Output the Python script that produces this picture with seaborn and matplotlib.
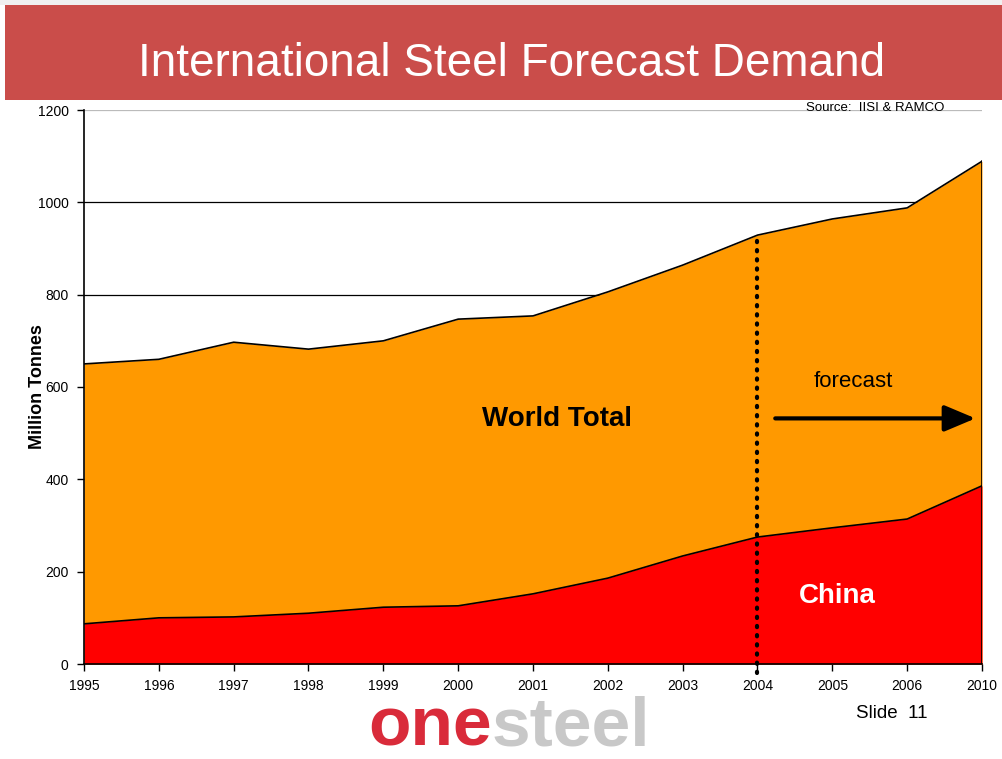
import matplotlib
matplotlib.use("Agg")
import matplotlib.pyplot as plt
import seaborn as sns
import pandas as pd
import numpy as np
from matplotlib.patches import Rectangle, FancyArrowPatch
from matplotlib.transforms import offset_copy

years = ["1995", "1996", "1997", "1998", "1999", "2000", "2001",
         "2002", "2003", "2004", "2005", "2006", "2010"]
world_total = [650, 660, 697, 682, 700, 747, 754, 806, 864, 929, 964, 988, 1089]
china = [87, 100, 102, 110, 123, 126, 152, 186, 234, 275, 295, 314, 386]
y_ticks = [0, 200, 400, 600, 800, 1000, 1200]

sns.set_style("white")
plt.rcParams['font.family'] = ['Liberation Sans', 'DejaVu Sans']
plt.rcParams['text.color'] = 'black'
plt.rcParams['axes.labelcolor'] = 'black'
plt.rcParams['xtick.color'] = 'black'
plt.rcParams['ytick.color'] = 'black'

fig = plt.figure(figsize=(10.03, 7.59), dpi=100)
W, H = 1003, 759
ax = fig.add_axes([84 / W, 1 - 664 / H, (982 - 84) / W, (664 - 110) / H])

df = pd.DataFrame({"x": np.arange(len(years)), "world": world_total, "china": china})

ax.fill_between(df["x"], 0, df["world"], color="#FF9900", linewidth=0, zorder=2)
ax.fill_between(df["x"], 0, df["china"], color="#FF0000", linewidth=0, zorder=3)
sns.lineplot(data=df, x="x", y="world", color="black", linewidth=1.2, ax=ax, zorder=4)
sns.lineplot(data=df, x="x", y="china", color="black", linewidth=1.2, ax=ax, zorder=4)
ax.plot([df["x"].iloc[-1]] * 2, [0, df["world"].iloc[-1]], color="black", lw=1.2, zorder=4)

# gridlines
for g in [800, 1000]:
    ax.axhline(g, color="black", lw=0.9, zorder=1)
ax.axhline(1200, color="#BBBBBB", lw=0.9, zorder=1)

# forecast divider
i2004 = years.index("2004")
ax.plot([i2004, i2004], [-20, world_total[i2004]], color="black", lw=3,
        linestyle=(0, (0.3, 1.9)), dash_capstyle="round", zorder=6, clip_on=False)

ax.set_xlim(0, len(years) - 1)
ax.set_ylim(0, 1200)
ax.set_xticks(range(len(years)))
ax.set_xticklabels(years, fontsize=10)
ax.set_yticks(y_ticks)
ax.set_yticklabels([str(v) for v in y_ticks], fontsize=10)
ax.set_xlabel("")
ax.set_ylabel("Million Tonnes", fontsize=13, fontweight="bold")
ax.yaxis.set_label_coords(-0.042, 0.5)
ax.tick_params(axis="both", direction="out", length=5, width=1, color="black", pad=6,
               bottom=True, left=True)
for s in ["top", "right"]:
    ax.spines[s].set_visible(False)
for s in ["left", "bottom"]:
    ax.spines[s].set_color("black")
    ax.spines[s].set_linewidth(1.2)
    ax.spines[s].set_zorder(7)

# annotations
ax.text(6.32, 530, "World Total", fontsize=20, fontweight="bold", ha="center", va="center", zorder=8)
ax.text(10.06, 148, "China", fontsize=20, fontweight="bold", color="white", ha="center", va="center", zorder=8)
ax.text(10.28, 612, "forecast", fontsize=16, ha="center", va="center", zorder=8)
arr = FancyArrowPatch((9.2, 532), (11.95, 532), arrowstyle="-|>,head_length=0.95,head_width=0.4",
                      color="black", lw=3, mutation_scale=20, zorder=8)
ax.add_patch(arr)

# banner
fig.patches.append(Rectangle((5 / W, 1 - 100 / H), 1 - 5 / W, 95 / H, transform=fig.transFigure,
                             facecolor="#CA4D4A", edgecolor="none", zorder=0))
fig.patches.append(Rectangle((0, 1 - 5 / H), 1, 5 / H, transform=fig.transFigure,
                             facecolor="#F0F0F0", edgecolor="none", zorder=0))
fig.text(512 / W, 1 - 64 / H, "International Steel Forecast Demand", color="white",
         fontsize=33, ha="center", va="center")

fig.text(875 / W, 1 - 108 / H, "Source:  IISI & RAMCO", fontsize=9.5, ha="center", va="center")
fig.text(892 / W, 1 - 714 / H, "Slide  11", fontsize=13.5, ha="center", va="center")

# logo
t1 = fig.text(368 / W, 1 - 745 / H, "one", color="#D92B3A", fontsize=50, fontweight="bold",
              ha="left", va="baseline")
fig.canvas.draw()
r = fig.canvas.get_renderer()
bb = t1.get_window_extent(r)
fig.text(bb.x1 / W, 1 - 745 / H, "steel", color="#C8C8C8", fontsize=50, fontweight="bold",
         ha="left", va="baseline")

fig.savefig("out.png", dpi=100)
